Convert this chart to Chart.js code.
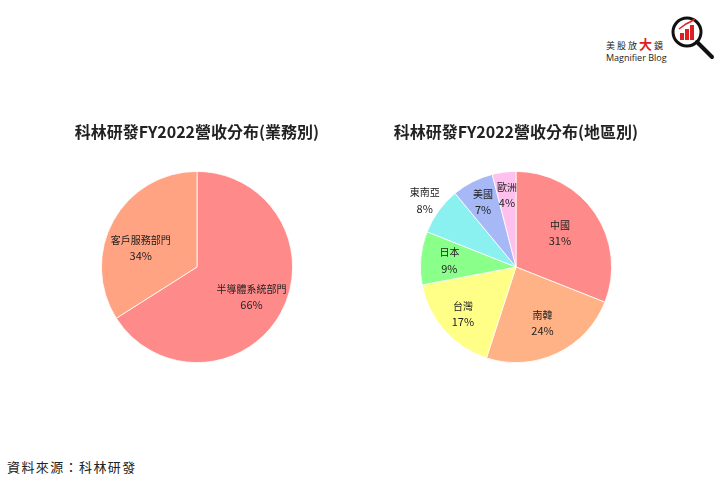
<!DOCTYPE html>
<html><head><meta charset="utf-8">
<script src="https://cdn.jsdelivr.net/npm/chart.js@4"></script>
<style>
html,body{margin:0;padding:0;background:#fff;width:720px;height:480px;overflow:hidden;font-family:"Noto Sans CJK TC","Noto Sans",sans-serif;}
.cv{position:absolute;}
#src{position:absolute;left:7px;top:457px;font-size:13px;color:#222;letter-spacing:1.4px;}
#logo{position:absolute;left:600px;top:8px;width:120px;height:56px;}
#logo .t1{position:absolute;left:6px;top:26px;font-size:9px;color:#222;letter-spacing:2px;white-space:nowrap;}
#logo .t1 b{color:#e02020;font-size:13px;font-weight:bold;}
#logo .t2{position:absolute;left:6px;top:43px;font-size:9px;color:#222;white-space:nowrap;font-family:"Open Sans","Noto Sans",sans-serif;}
#logo svg{position:absolute;left:70px;top:4px;}
</style></head>
<body>
<canvas id="c1" class="cv" width="320" height="271" style="left:37px;top:112px;width:320px;height:271px"></canvas>
<canvas id="c2" class="cv" width="320" height="271" style="left:356px;top:112px;width:320px;height:271px"></canvas>
<div id="src">資料來源：科林研發</div>
<div id="logo">
  <div class="t1">美股放<b>大</b>鏡</div>
  <div class="t2">Magnifier Blog</div>
  <svg width="48" height="52" viewBox="0 0 48 52">
    <circle cx="17" cy="20" r="14" fill="#fff" stroke="#111" stroke-width="3"/>
    <line x1="27" y1="30" x2="42" y2="45" stroke="#111" stroke-width="4" stroke-linecap="round"/>
    <rect x="10" y="21" width="4" height="7" fill="#e02020"/>
    <rect x="15" y="17" width="4" height="11" fill="#e02020"/>
    <rect x="20" y="13" width="4" height="15" fill="#e02020"/>
    <polyline points="9,17 16,12 20,10 25,7" fill="none" stroke="#e02020" stroke-width="1.5"/>
  </svg>
</div>
<script>
// ---- data ----
const businessTitle = "科林研發FY2022營收分布(業務別)";
const businessLabels = ["半導體系統部門", "客戶服務部門"];
const businessValues = [66, 34];

const regionTitle = "科林研發FY2022營收分布(地區別)";
const regionLabels = ["中國", "南韓", "台灣", "日本", "東南亞", "美國", "歐洲"];
const regionValues = [31, 24, 17, 9, 8, 7, 4];

// ---- styles ----
const businessColors = ["#FF8A8A", "#FFA383"];
const regionColors = ["#FF8A8A", "#FFB285", "#FFFF88", "#8AFF8A", "#8AF0F0", "#A6B8F5", "#FFC0EE"];
const businessLabelRadius = [0.65, 0.62];
const businessLabelTurn = [0, -0.18];
const regionLabelRadius = [0.58, 0.65, 0.74, 0.7, 1.18, 0.76, 0.76];
const regionLabelTurn = [-0.06, 0, 0, 0, 0, 0, 0];

const FONT = '"Noto Sans CJK TC","Noto Sans",sans-serif';

const sliceLabels = {
  id: 'sliceLabels',
  afterDatasetsDraw(chart, args, opts) {
    const ctx = chart.ctx;
    const meta = chart.getDatasetMeta(0);
    const labels = chart.data.labels;
    const vals = chart.data.datasets[0].data;
    ctx.save();
    ctx.textAlign = 'center';
    ctx.textBaseline = 'middle';
    ctx.fillStyle = '#222';
    meta.data.forEach((arc, i) => {
      const p = arc.getProps(['x','y','startAngle','endAngle','outerRadius'], true);
      const mid = (p.startAngle + p.endAngle) / 2 + opts.turn[i];
      const f = opts.radii[i];
      const lx = p.x + Math.cos(mid) * p.outerRadius * f;
      const ly = p.y + Math.sin(mid) * p.outerRadius * f;
      ctx.font = '10px ' + FONT;
      ctx.fillText(labels[i], lx, ly - 8);
      ctx.font = '11px ' + FONT;
      ctx.fillText(vals[i] + '%', lx, ly + 8);
    });
    ctx.restore();
  }
};

function makePie(id, title, labels, values, colors, radii, turn) {
  return new Chart(document.getElementById(id), {
    type: 'pie',
    data: { labels: labels, datasets: [{ data: values, backgroundColor: colors, borderColor: '#ffffff', borderWidth: 0.8 }] },
    options: {
      responsive: false,
      animation: false,
      layout: { padding: { top: 0, bottom: 20, left: 0, right: 0 } },
      plugins: {
        legend: { display: false },
        tooltip: { enabled: false },
        title: { display: true, text: title, color: '#222', padding: { top: 10, bottom: 29.8 },
                 font: { family: FONT, size: 16, weight: 'bold' } },
        sliceLabels: { radii: radii, turn: turn }
      }
    },
    plugins: [sliceLabels]
  });
}

makePie('c1', businessTitle, businessLabels, businessValues, businessColors, businessLabelRadius, businessLabelTurn);
makePie('c2', regionTitle, regionLabels, regionValues, regionColors, regionLabelRadius, regionLabelTurn);
</script>
</body></html>
